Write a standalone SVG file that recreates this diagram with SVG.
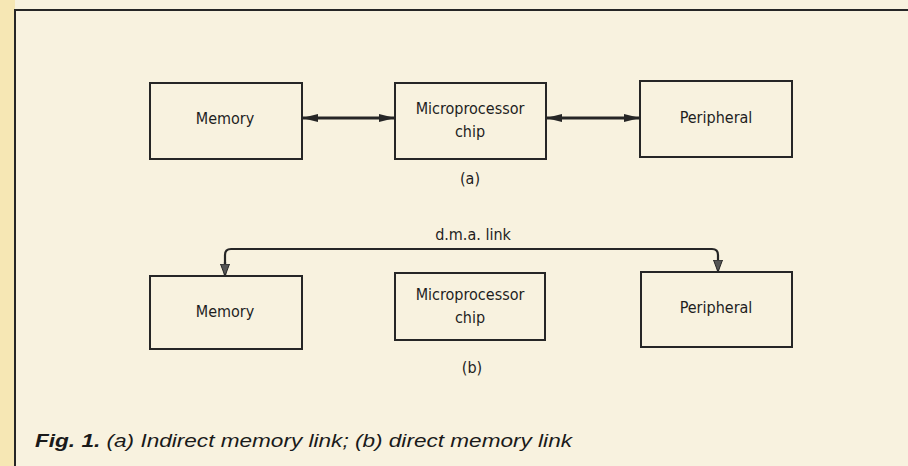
<svg xmlns="http://www.w3.org/2000/svg" width="908" height="466" viewBox="0 0 908 466">
<style>
.box{fill:none;stroke:#262626;stroke-width:2}
.lbl{font-family:"DejaVu Sans Condensed","Liberation Sans",sans-serif;font-size:16px;fill:#1e1e1e;text-anchor:middle}
.link{fill:none;stroke:#262626;stroke-width:3.2}
.dma{fill:none;stroke:#262626;stroke-width:2.2}
.cap{font-family:"Liberation Sans",Arial,sans-serif;font-size:18.5px;font-style:italic;fill:#1a1a1a}
</style>
<defs>
<marker id="ah" viewBox="0 0 16 10" refX="15" refY="5" markerWidth="16" markerHeight="10" markerUnits="userSpaceOnUse" orient="auto-start-reverse">
<path d="M0,1 L16,5 L0,9 Z" fill="#262626"/>
</marker>
<marker id="dh" viewBox="0 0 12 10" refX="11" refY="5" markerWidth="12" markerHeight="10" markerUnits="userSpaceOnUse" orient="auto">
<path d="M0,0.5 L12,5 L0,9.5 Z" fill="#555" stroke="#262626" stroke-width="1"/>
</marker>
</defs>
<rect width="908" height="466" fill="#f8f2df"/>
<rect width="15" height="466" fill="#f6e7b4"/>
<path d="M15,466 V10 H908" fill="none" stroke="#262626" stroke-width="2"/>
<g id="mem-a"><rect class="box" x="150" y="83" width="152" height="76"/><text class="lbl" x="225" y="124">Memory</text></g>
<g id="cpu-a"><rect class="box" x="395" y="83" width="151" height="76"/><text class="lbl" x="470" y="114">Microprocessor</text><text class="lbl" x="470" y="137">chip</text></g>
<g id="per-a"><rect class="box" x="640" y="81" width="152" height="76"/><text class="lbl" x="716" y="123">Peripheral</text></g>
<text class="lbl" x="470" y="184">(a)</text>
<g id="mem-b"><rect class="box" x="150" y="276" width="152" height="73"/><text class="lbl" x="225" y="317">Memory</text></g>
<g id="cpu-b"><rect class="box" x="395" y="273" width="150" height="67"/><text class="lbl" x="470" y="300">Microprocessor</text><text class="lbl" x="470" y="323">chip</text></g>
<g id="per-b"><rect class="box" x="641" y="272" width="151" height="75"/><text class="lbl" x="716" y="313">Peripheral</text></g>
<text class="lbl" x="472" y="373">(b)</text>
<g id="connectors">
<line class="link" x1="303" y1="118" x2="394" y2="118" marker-start="url(#ah)" marker-end="url(#ah)"/>
<line class="link" x1="547" y1="118" x2="639" y2="118" marker-start="url(#ah)" marker-end="url(#ah)"/>
<path class="dma" d="M225,275 V255 Q225,249 231,249 H712 Q718,249 718,255 V271" marker-end="url(#dh)"/>
<path class="dma" d="M225,262 V275" marker-end="url(#dh)"/>
<text class="lbl" x="473" y="240">d.m.a. link</text>
</g>
<text class="cap" x="35" y="447" textLength="537" lengthAdjust="spacingAndGlyphs"><tspan font-weight="bold">Fig. 1.</tspan> (a) Indirect memory link; (b) direct memory link</text>
</svg>
